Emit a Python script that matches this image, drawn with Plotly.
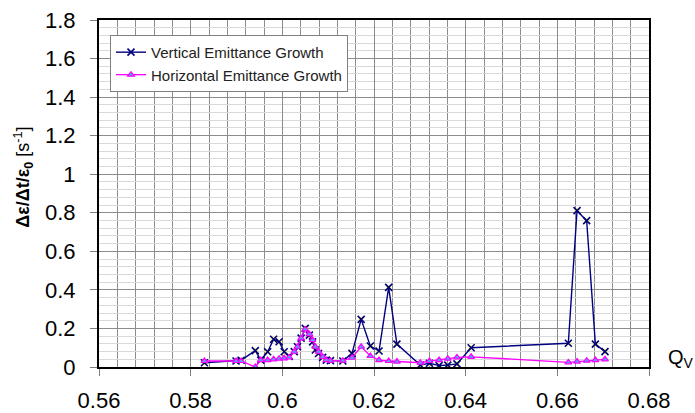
import plotly.graph_objects as go

# Tune values Q_V (shared by both series)
q_v = [0.5830, 0.5899, 0.5910, 0.5941, 0.5953, 0.5968, 0.5981, 0.5993, 0.6004, 0.6015,
       0.6026, 0.6033, 0.6041, 0.6050, 0.6059, 0.6066, 0.6072, 0.6079, 0.6088, 0.6096,
       0.6105, 0.6132, 0.6152, 0.6172, 0.6192, 0.6211, 0.6232, 0.6250, 0.6301, 0.6321,
       0.6342, 0.6361, 0.6381, 0.6412, 0.6624, 0.6643, 0.6664, 0.6683, 0.6704]

vertical_growth = [0.022, 0.031, 0.035, 0.085, 0.036, 0.079, 0.144, 0.131, 0.079, 0.055,
                   0.080, 0.105, 0.150, 0.200, 0.165, 0.130, 0.088, 0.070, 0.050, 0.036,
                   0.033, 0.031, 0.071, 0.247, 0.109, 0.083, 0.413, 0.119, 0.010, 0.019,
                   0.007, 0.010, 0.016, 0.100, 0.123, 0.811, 0.759, 0.119, 0.080]

horizontal_growth = [0.031, 0.031, 0.031, 0.000, 0.036, 0.036, 0.040, 0.043, 0.045, 0.050,
                     0.079, 0.105, 0.149, 0.195, 0.170, 0.140, 0.105, 0.079, 0.053, 0.036,
                     0.033, 0.033, 0.048, 0.105, 0.057, 0.036, 0.031, 0.028, 0.022, 0.031,
                     0.036, 0.043, 0.050, 0.053, 0.024, 0.028, 0.033, 0.036, 0.040]

x_ticks = [0.56, 0.58, 0.60, 0.62, 0.64, 0.66, 0.68]
x_tick_labels = ["0.56", "0.58", "0.6", "0.62", "0.64", "0.66", "0.68"]
y_ticks = [0, 0.2, 0.4, 0.6, 0.8, 1.0, 1.2, 1.4, 1.6, 1.8]
y_tick_labels = ["0", "0.2", "0.4", "0.6", "0.8", "1", "1.2", "1.4", "1.6", "1.8"]

FONT = "Arial, Liberation Sans, sans-serif"

fig = go.Figure()

# yellow marker backgrounds for the vertical series
fig.add_trace(go.Scatter(
    x=q_v, y=vertical_growth, mode="markers",
    marker=dict(symbol="square", size=5, color="#FFFF66", line=dict(width=0)),
    showlegend=False, hoverinfo="skip", legendgroup="v"))

fig.add_trace(go.Scatter(
    x=q_v, y=vertical_growth, mode="lines+markers",
    name="Vertical Emittance Growth", legendgroup="v",
    line=dict(color="#000080", width=1.4),
    marker=dict(symbol="x-thin", size=7, line=dict(color="#000080", width=1.6))))

fig.add_trace(go.Scatter(
    x=q_v, y=horizontal_growth, mode="lines+markers",
    name="Horizontal Emittance Growth", legendgroup="h",
    line=dict(color="#FF00FF", width=1.3),
    marker=dict(symbol="triangle-up", size=6, color="#4DA6FF",
                line=dict(color="#FF00FF", width=1.2))))

fig.update_layout(
    width=695, height=413,
    margin=dict(l=99, r=46, t=20, b=46),
    paper_bgcolor="white", plot_bgcolor="white",
    font=dict(family=FONT, color="black"),
    showlegend=True,
    legend=dict(x=0.02, y=0.957, xanchor="left", yanchor="top",
                bgcolor="white", bordercolor="#808080", borderwidth=1,
                font=dict(size=15, family=FONT, color="#222"),
                tracegroupgap=0, itemwidth=30),
)

fig.update_xaxes(
    range=[0.56, 0.68], tickvals=x_ticks, ticktext=x_tick_labels,
    tickfont=dict(size=22, family=FONT), automargin=False,
    ticks="outside", ticklen=7, tickcolor="#808080", ticklabelstandoff=6,
    showgrid=True, gridcolor="#8c8c8c", gridwidth=1,
    minor=dict(dtick=0.004, showgrid=True, gridcolor="#8c8c8c", gridwidth=1),
    showline=True, linecolor="black", linewidth=2, mirror=True,
    zeroline=False)

fig.update_yaxes(
    range=[0, 1.8], tickvals=y_ticks, ticktext=y_tick_labels,
    tickfont=dict(size=22, family=FONT), automargin=False,
    ticks="outside", ticklen=7, tickcolor="#808080", ticklabelstandoff=10,
    showgrid=True, gridcolor="#8c8c8c", gridwidth=1,
    minor=dict(dtick=0.04, showgrid=True, gridcolor="#d9d9d9", gridwidth=1),
    showline=True, linecolor="black", linewidth=2, mirror=True,
    zeroline=False)

fig.add_annotation(
    text="<b>\u0394\u03b5/\u0394t/\u03b5<sub>0</sub></b> [s<sup>-1</sup>]",
    xref="paper", yref="paper", x=-0.138, y=0.546,
    xanchor="center", yanchor="middle", textangle=-90, showarrow=False,
    font=dict(size=18, family=FONT, color="black"))

fig.add_annotation(
    text="Q<sub>V</sub>",
    xref="paper", yref="paper", x=1.03, y=0.025,
    xanchor="left", yanchor="middle", showarrow=False,
    font=dict(size=20, family=FONT, color="black"))

# remove the browser's default body margin so the figure sits at the window origin
fig.write_html(
    "out.html",
    config={"displayModeBar": False},
    post_script="document.body.style.margin='0';document.body.style.overflow='hidden';")
